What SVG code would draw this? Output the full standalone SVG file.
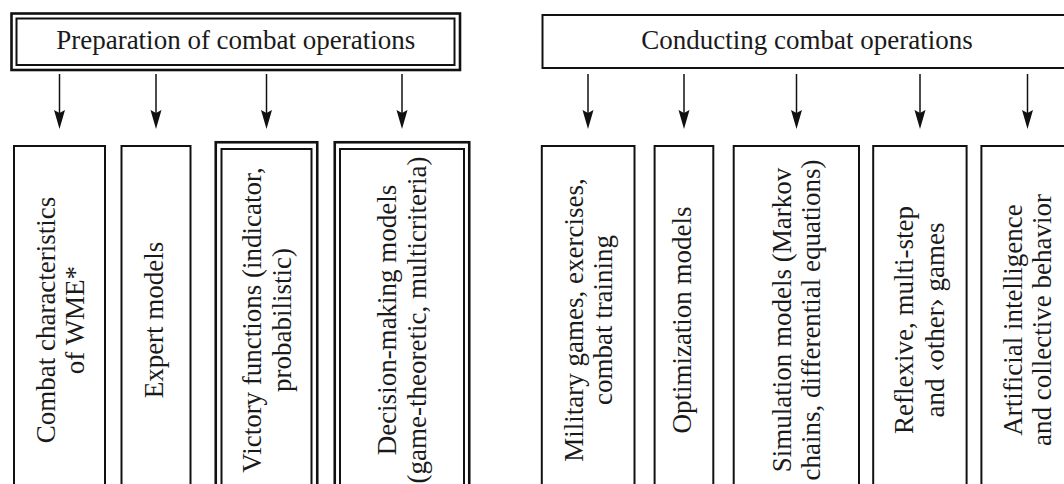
<svg xmlns="http://www.w3.org/2000/svg" width="1064" height="484" viewBox="0 0 1064 484">
<style>
  .box{fill:#fff;stroke:#111;stroke-width:2}
  .outer{fill:#fff;stroke:#111;stroke-width:2.6}
  .inner{fill:none;stroke:#111;stroke-width:2}
  .lbl{font-family:"Liberation Serif","Times New Roman",serif;font-size:27px;fill:#1a1a1a;text-anchor:middle}
  .conn line{stroke:#111;stroke-width:1.5;marker-end:url(#ah)}
</style>
<defs>
  <marker id="ah" markerUnits="userSpaceOnUse" markerWidth="19" markerHeight="12" viewBox="0 0 19 12" refX="10" refY="6" orient="auto">
    <path d="M0,0.5 L19,6 L0,11.5 L3,6 z" fill="#111"/>
  </marker>
</defs>
<rect width="1064" height="484" fill="#fff"/>

<g id="prep">
  <rect class="outer" x="11.5" y="13.5" width="448.5" height="56.5"/>
  <rect class="inner" x="16.5" y="18.5" width="438" height="46.5"/>
  <text class="lbl" x="235.75" y="48.5">Preparation of combat operations</text>
</g>
<g id="cond">
  <rect class="box" x="542.5" y="15" width="540" height="53"/>
  <text class="lbl" x="807" y="48.5">Conducting combat operations</text>
</g>

<g class="conn" id="connectors">
  <line x1="59.5" y1="74" x2="59.5" y2="120"/>
  <line x1="156" y1="74" x2="156" y2="120"/>
  <line x1="266.5" y1="74" x2="266.5" y2="120"/>
  <line x1="402" y1="74" x2="402" y2="120"/>
  <line x1="588" y1="74" x2="588" y2="120"/>
  <line x1="684" y1="74" x2="684" y2="120"/>
  <line x1="796.5" y1="74" x2="796.5" y2="120"/>
  <line x1="920" y1="74" x2="920" y2="120"/>
  <line x1="1027.5" y1="74" x2="1027.5" y2="120"/>
</g>

<g id="wme">
  <rect class="box" x="14" y="146" width="91" height="350"/>
  <text class="lbl" transform="translate(54.5,320) rotate(-90)">Combat characteristics</text>
  <text class="lbl" transform="translate(84,320) rotate(-90)">of WME*</text>
</g>
<g id="expert">
  <rect class="box" x="121.5" y="146" width="69" height="350"/>
  <text class="lbl" transform="translate(162.5,320) rotate(-90)">Expert models</text>
</g>
<g id="victory">
  <rect class="outer" x="215.75" y="142.25" width="101.5" height="350"/>
  <rect class="inner" x="221.5" y="149" width="90" height="350"/>
  <text class="lbl" transform="translate(261,320) rotate(-90)">Victory functions (indicator,</text>
  <text class="lbl" transform="translate(291,320) rotate(-90)">probabilistic)</text>
</g>
<g id="decision">
  <rect class="outer" x="334.75" y="142.25" width="134.5" height="350"/>
  <rect class="inner" x="340" y="149" width="124" height="350"/>
  <text class="lbl" transform="translate(396,320) rotate(-90)">Decision-making models</text>
  <text class="lbl" transform="translate(426,320) rotate(-90)">(game-theoretic, multicriteria)</text>
</g>

<g id="military">
  <rect class="box" x="541.8" y="146" width="92.7" height="350"/>
  <text class="lbl" transform="translate(582.5,320) rotate(-90)">Military games, exercises,</text>
  <text class="lbl" transform="translate(611.5,320) rotate(-90)">combat training</text>
</g>
<g id="optimization">
  <rect class="box" x="654.6" y="146" width="58.7" height="350"/>
  <text class="lbl" transform="translate(691,320) rotate(-90)">Optimization models</text>
</g>
<g id="simulation">
  <rect class="box" x="733.7" y="146" width="125.3" height="350"/>
  <text class="lbl" transform="translate(790.5,320) rotate(-90)">Simulation models (Markov</text>
  <text class="lbl" transform="translate(820,320) rotate(-90)">chains, differential equations)</text>
</g>
<g id="reflexive">
  <rect class="box" x="873.2" y="146" width="93.4" height="350"/>
  <text class="lbl" transform="translate(913,320) rotate(-90)">Reflexive, multi-step</text>
  <text class="lbl" transform="translate(944,320) rotate(-90)">and ‹other› games</text>
</g>
<g id="ai">
  <rect class="box" x="981.4" y="146" width="100" height="350"/>
  <text class="lbl" transform="translate(1021.5,320) rotate(-90)">Artificial intelligence</text>
  <text class="lbl" transform="translate(1051,320) rotate(-90)">and collective behavior</text>
</g>
</svg>
